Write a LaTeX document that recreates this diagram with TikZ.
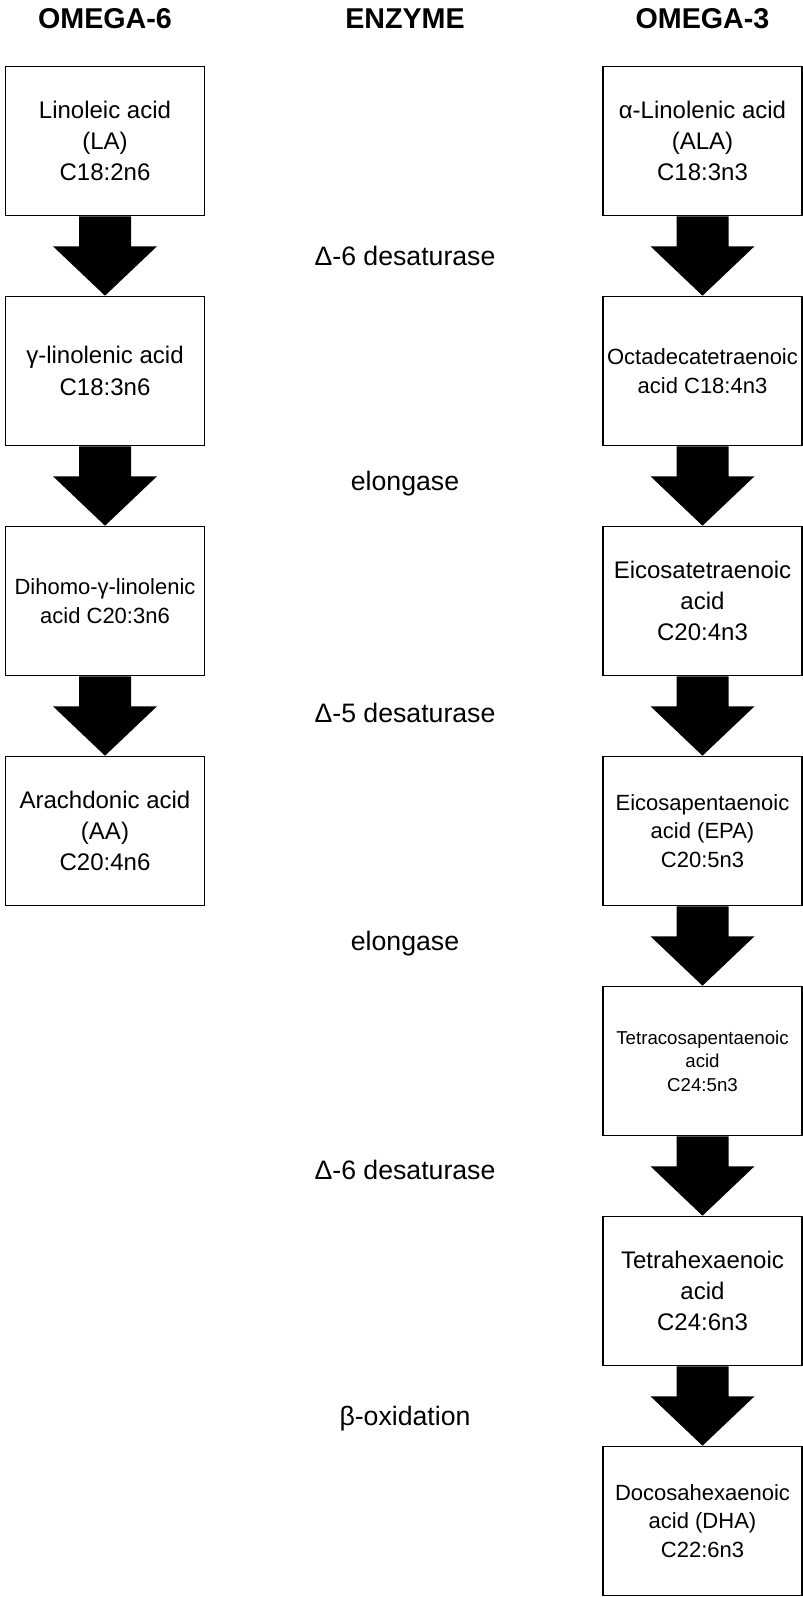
\documentclass[tikz,border=0pt]{standalone}
\usepackage{fontspec}
\setmainfont{Liberation Sans}
\usetikzlibrary{calc}

\begin{document}
\begin{tikzpicture}[
  x=0.75pt, y=0.75pt,
  acid/.style={rectangle, draw=black, line width=1.2pt, fill=white,
               minimum width=149.25pt, minimum height=111.75pt, inner sep=0pt,
               align=center, font=\fontsize{18}{23.5}\selectfont},
  acidsm/.style={acid, font=\fontsize{16.5}{21.5}\selectfont},
  acidxs/.style={acid, font=\fontsize{14}{17.5}\selectfont},
  enz/.style={font=\fontsize{20}{24}\selectfont},
  colhead/.style={font=\bfseries\fontsize{21.5}{26}\selectfont}
]
  \useasboundingbox (0,0) rectangle (803,-1597);

  % encabezados
  \node[colhead] (hsix)   at (105,-19)   {OMEGA-6};
  \node[colhead] (henz)   at (405,-19)   {ENZYME};
  \node[colhead] (hthree) at (702.5,-19) {OMEGA-3};

  % omega-6
  \node[acid]   (la)   at (105,-141)  {Linoleic acid\\(LA)\\C18:2n6};
  \node[acid]   (gla)  at (105,-371)  {γ-linolenic acid\\C18:3n6};
  \node[acidsm] (dgla) at (105,-601)  {Dihomo-γ-linolenic\\acid C20:3n6};
  \node[acid]   (aa)   at (105,-831)  {Arachdonic acid\\(AA)\\C20:4n6};

  % omega-3
  \node[acid]   (ala) at (702.5,-141)  {α-Linolenic acid\\(ALA)\\C18:3n3};
  \node[acidsm] (sda) at (702.5,-371)  {Octadecatetraenoic\\acid C18:4n3};
  \node[acid]   (eta) at (702.5,-601)  {Eicosatetraenoic\\acid\\C20:4n3};
  \node[acidsm] (epa) at (702.5,-831)  {Eicosapentaenoic\\acid (EPA)\\C20:5n3};
  \node[acidxs] (tpa) at (702.5,-1061) {Tetracosapentaenoic\\acid\\C24:5n3};
  \node[acid]   (tha) at (702.5,-1291) {Tetrahexaenoic\\acid\\C24:6n3};
  \node[acidsm] (dha) at (702.5,-1521) {Docosahexaenoic\\acid (DHA)\\C22:6n3};

  % enzimas
  \node[enz] (dsix)  at (405,-256)  {Δ-6 desaturase};
  \node[enz] (eloa)  at (405,-484)  {elongase};
  \node[enz] (dfive) at (405,-713)  {Δ-5 desaturase};
  \node[enz] (elob)  at (405,-944)  {elongase};
  \node[enz] (dsixb) at (405,-1170) {Δ-6 desaturase};
  \node[enz] (boxi)  at (405,-1419) {β-oxidation};

  % flechas de bloque
  \foreach \a/\b in {la/gla, gla/dgla, dgla/aa, ala/sda, sda/eta, eta/epa, epa/tpa, tpa/tha, tha/dha}
    \fill ($(\a.south)+(-26,0)$) -- ($(\a.south)+(26,0)$) -- ($(\a.south)+(26,-30)$)
      -- ($(\a.south)+(52,-30)$) -- (\b.north) -- ($(\a.south)+(-52,-30)$)
      -- ($(\a.south)+(-26,-30)$) -- cycle;
\end{tikzpicture}
\end{document}
